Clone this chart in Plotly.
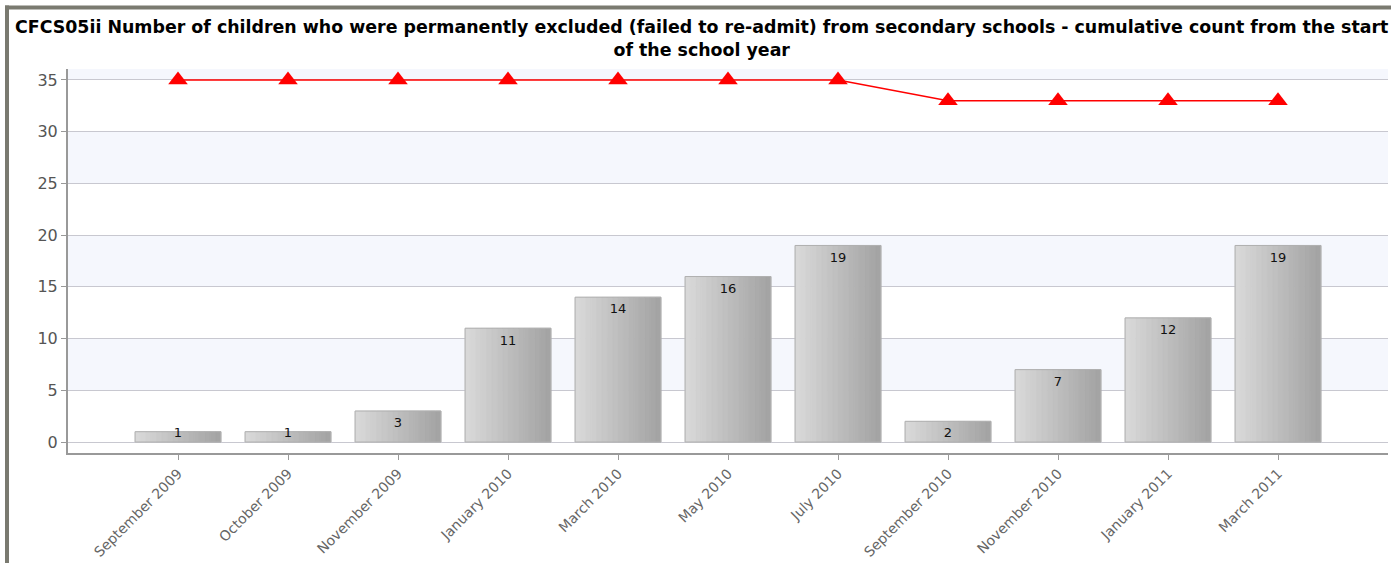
import plotly.graph_objects as go

categories = ["September 2009", "October 2009", "November 2009", "January 2010", "March 2010",
              "May 2010", "July 2010", "September 2010", "November 2010", "January 2011", "March 2011"]
counts = [1, 1, 3, 11, 14, 16, 19, 2, 7, 12, 19]
target = [35, 35, 35, 35, 35, 35, 35, 33, 33, 33, 33]
y_ticks = [0, 5, 10, 15, 20, 25, 30, 35]

title = ("CFCS05ii Number of children who were permanently excluded (failed to re-admit) from secondary "
         "schools - cumulative count from the start<br>of the school year")

fig = go.Figure()

# gradient bars built from thin slices
n_slices = 16
bar_w = 0.78
c0 = (216, 216, 216)
c1 = (164, 164, 164)
for i in range(n_slices):
    t = i / (n_slices - 1)
    col = "rgb(%d,%d,%d)" % tuple(round(a + (b - a) * t) for a, b in zip(c0, c1))
    fig.add_trace(go.Bar(
        x=categories, y=counts, width=bar_w / n_slices,
        offset=-bar_w / 2 + i * bar_w / n_slices,
        marker=dict(color=col, line=dict(width=0.8, color=col)),
        hoverinfo="skip", showlegend=False,
    ))
# outline
fig.add_trace(go.Bar(
    x=categories, y=counts, width=bar_w, offset=-bar_w / 2,
    marker=dict(color="rgba(0,0,0,0)", line=dict(color="#b0b0b0", width=1)),
    showlegend=False,
))
# value labels, placed just inside the top of each bar
label_y = [max(v - 1.26, 0.78) for v in counts]
fig.add_trace(go.Scatter(
    x=categories, y=label_y, mode="text", text=[str(v) for v in counts],
    textposition="middle center",
    textfont=dict(family="DejaVu Sans", size=13, color="#111"),
    showlegend=False, hoverinfo="skip",
))
# target line
fig.add_trace(go.Scatter(
    x=categories, y=target, mode="lines+markers",
    line=dict(color="#ff0000", width=1.5),
    marker=dict(symbol="triangle-up", size=17, color="#ff0000"),
    showlegend=False,
))

ymin, ymax = -1.06, 36.06
shapes = []
for lo, hi in [(5, 10), (15, 20), (25, 30), (35, ymax)]:
    shapes.append(dict(type="rect", xref="paper", yref="y", x0=0, x1=1, y0=lo, y1=hi,
                       fillcolor="#f5f7fd", line=dict(width=0), layer="below"))
# page frame (left and top border)
px = lambda x: (x - 68) / 1320.0
py = lambda y: (453 - y) / 384.0
shapes.append(dict(type="rect", xref="paper", yref="paper", x0=px(5), x1=px(1391), y0=py(9.5), y1=py(5.5),
                   fillcolor="#7a7a70", line=dict(width=0), layer="above"))
shapes.append(dict(type="rect", xref="paper", yref="paper", x0=px(5), x1=px(9), y0=py(563), y1=py(5.5),
                   fillcolor="#7a7a70", line=dict(width=0), layer="above"))

annotations = [dict(text="<b>" + title + "</b>", xref="paper", yref="paper",
                    x=px(701), y=py(15), xanchor="center", yanchor="top", showarrow=False,
                    align="center", font=dict(family="DejaVu Sans", size=17.4, color="#000"))]

fig.update_layout(
    width=1391, height=563,
    margin=dict(l=68, r=3, t=69, b=110, autoexpand=False),
    paper_bgcolor="white", plot_bgcolor="white",
    barmode="overlay",
    shapes=shapes,
    annotations=annotations,
    xaxis=dict(type="category", range=[-1, 11], tickangle=-45,
               showline=True, linecolor="#999", linewidth=2, ticks="outside", ticklen=5,
               tickcolor="#999", showgrid=False,
               tickfont=dict(family="DejaVu Sans", size=14, color="#666")),
    yaxis=dict(range=[ymin, ymax], tickvals=y_ticks, showline=True, linecolor="#999", linewidth=2,
               ticks="outside", ticklen=5, tickcolor="#999", gridcolor="#c8c8d0", gridwidth=1,
               zeroline=False,
               tickfont=dict(family="DejaVu Sans", size=16, color="#555")),
)

fig.write_html("out.html", config={"displayModeBar": False},
               post_script="document.body.style.margin='0px';")
